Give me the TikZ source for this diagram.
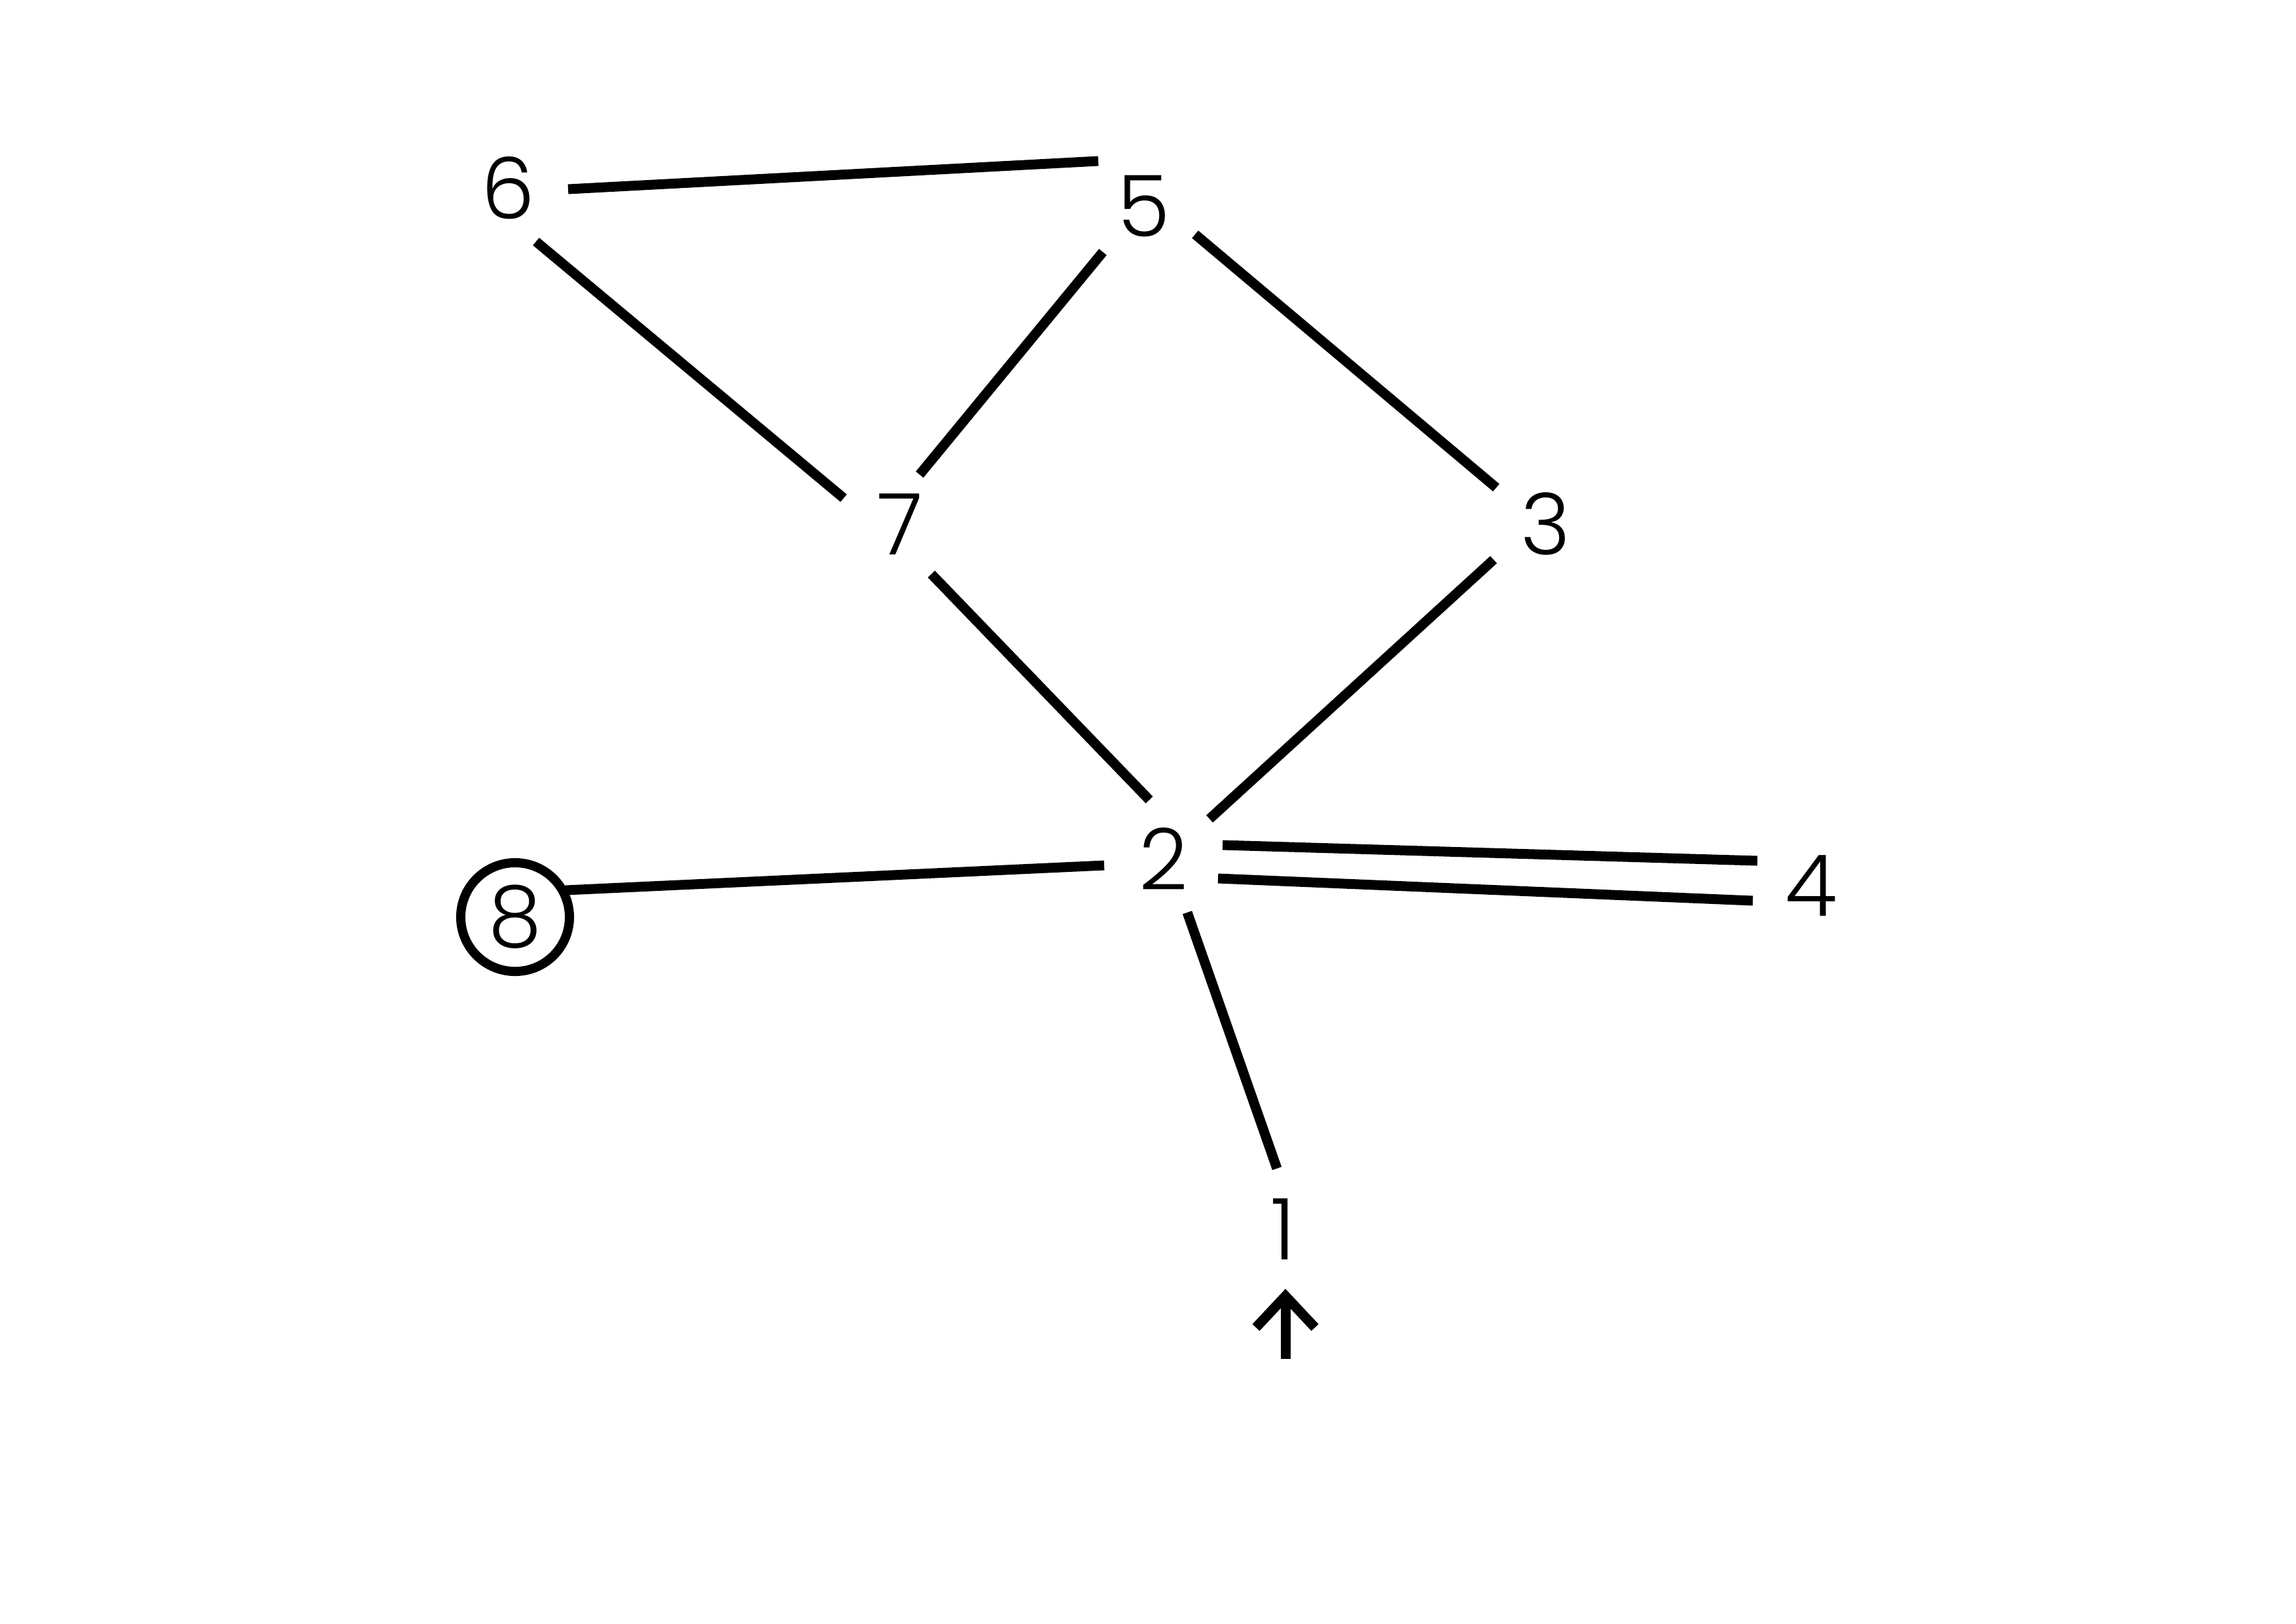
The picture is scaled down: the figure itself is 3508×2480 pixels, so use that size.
\documentclass[tikz,border=0pt]{standalone}
\usepackage{fontspec}
\newfontfamily\vertfont{Poppins Light}
\usetikzlibrary{arrows.meta}

\begin{document}
\begin{tikzpicture}[
      x=0.01cm, y=-0.01cm,
      vert/.style={font=\vertfont\fontsize{37}{40}\selectfont, inner sep=0pt},
      edge/.style={line width=0.15cm},
      arrow/.style={edge, -{Straight Barb[length=0.48cm, width=0.9cm, sharp]}}
  ]
      \useasboundingbox (0,0) rectangle (3508,2480);

      % Vertices
      \node[vert] (v6) at (776,287) {6};
      \node[vert] (v5) at (1748,315) {5};
      \node[vert] (v7) at (1375,801) {7};
      \node[vert] (v3) at (2362,800) {3};
      \node[vert] (v2) at (1778,1312) {2};
      \node[vert] (v4) at (2767,1353) {4};
      \node[vert] (v1) at (1960,1878) {1};
      \node[vert, draw, circle, line width=0.14cm, minimum size=1.66cm] (v8) at (787,1401) {8};

      % Edges
      \draw[edge] ([shift={(92,2)}]v6.center) -- ([shift={(-70,-69)}]v5.center);
      \draw[edge] ([shift={(43,82)}]v6.center) -- ([shift={(-86,-40)}]v7.center);
      \draw[edge] ([shift={(-63,70)}]v5.center) -- ([shift={(30,-76)}]v7.center);
      \draw[edge] ([shift={(78,43)}]v5.center) -- ([shift={(-76,-55)}]v3.center);
      \draw[edge] ([shift={(48,76)}]v7.center) -- ([shift={(-22,-90)}]v2.center);
      \draw[edge] ([shift={(-80,55)}]v3.center) -- ([shift={(70,-61)}]v2.center);
      \draw[edge] ([shift={(90,-21)}]v2.center) -- ([shift={(-82,-38)}]v4.center);
      \draw[edge] ([shift={(83,30)}]v2.center) -- ([shift={(-89,23)}]v4.center);
      \draw[edge] ([shift={(77,-41)}]v8.center) -- ([shift={(-91,10)}]v2.center);
      \draw[edge] ([shift={(36,82)}]v2.center) -- ([shift={(-9,-93)}]v1.center);

      % Start marker
      \coordinate (a1) at ([shift={(4,198)}]v1.center);
      \draw[arrow] (a1) -- ([shift={(4,91)}]v1.center);
  \end{tikzpicture}
\end{document}
